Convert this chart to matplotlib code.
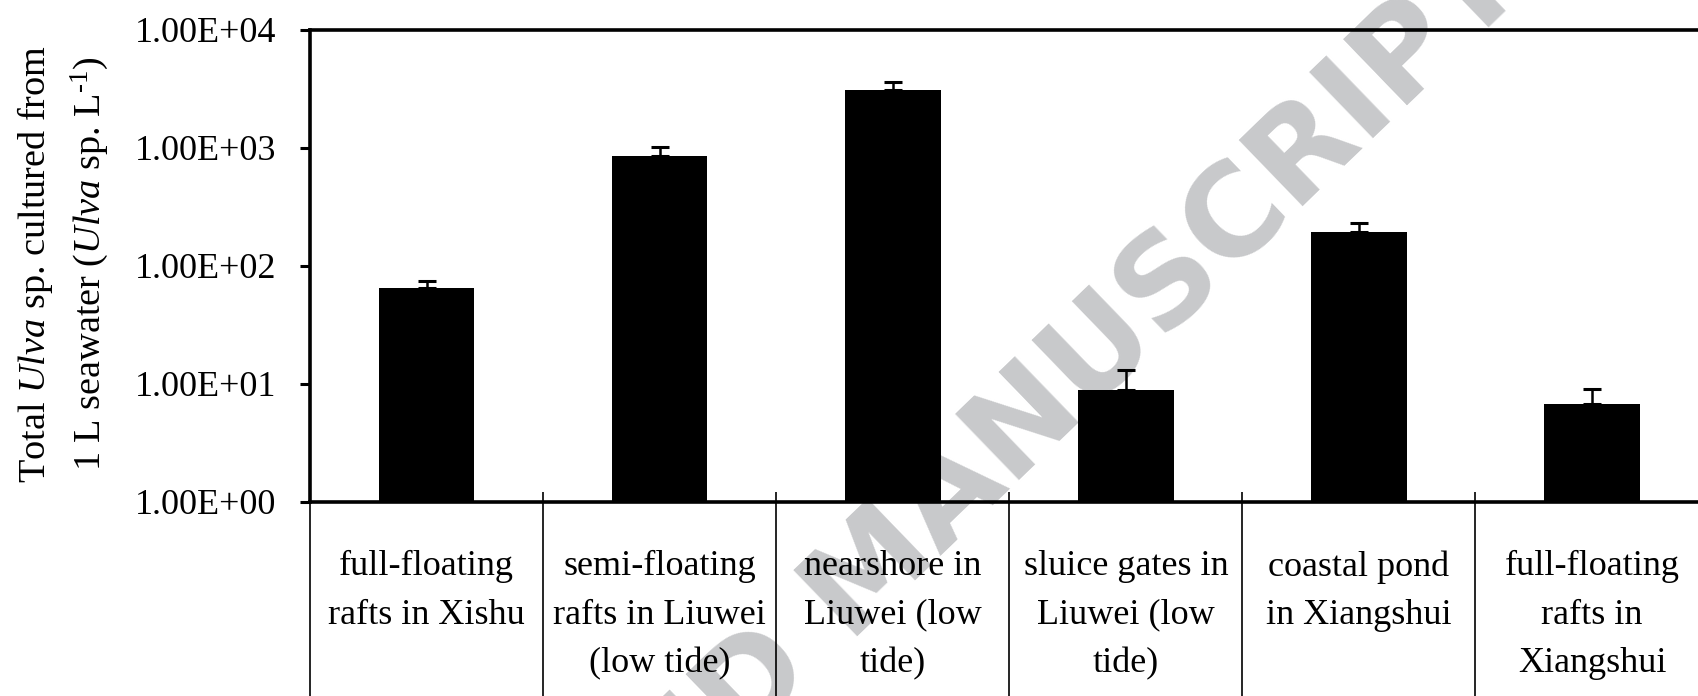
import numpy as np
import matplotlib
matplotlib.use("Agg")
import matplotlib.pyplot as plt
from matplotlib.ticker import FixedLocator, FuncFormatter, NullLocator

plt.rcParams["font.family"] = ["Liberation Serif", "DejaVu Serif"]
plt.rcParams["mathtext.fontset"] = "custom"
plt.rcParams["mathtext.rm"] = "Liberation Serif"
plt.rcParams["mathtext.it"] = "Liberation Serif:italic"

# data
sites = [
    "full-floating\nrafts in Xishu",
    "semi-floating\nrafts in Liuwei\n(low tide)",
    "nearshore in\nLiuwei (low\ntide)",
    "sluice gates in\nLiuwei (low\ntide)",
    "coastal pond\nin Xiangshui",
    "full-floating\nrafts in\nXiangshui",
]
totals = [65, 855, 3100, 8.9, 194, 6.8]
err_up = [9.5, 164, 525, 4.2, 37, 2.3]
yticks = [1, 10, 100, 1000, 10000]

W, H = 1698, 696
fig = plt.figure(figsize=(W / 100, H / 100), dpi=100)
ax = fig.add_axes([310 / W, 1 - 502 / H, 1398.6 / W, 472 / H])
ax.set_facecolor("none")

x = np.arange(len(sites)) + 0.5
ax.bar(x, totals, width=0.41, color="black", zorder=2)
ax.errorbar(x, totals, yerr=[np.zeros(len(sites)), err_up], fmt="none",
            ecolor="black", elinewidth=1.8, capsize=6.5, capthick=2.2, zorder=3)

ax.set_yscale("log")
ax.set_ylim(yticks[0], yticks[-1])
ax.set_xlim(0, len(sites))
ax.yaxis.set_major_locator(FixedLocator(yticks))
ax.yaxis.set_minor_locator(NullLocator())
ax.yaxis.set_major_formatter(FuncFormatter(lambda v, p: f"{v:.2E}"))
ax.tick_params(axis="y", direction="out", length=7.5, width=2.2, pad=17, labelsize=26)

# category boundaries: small inward ticks + table lines below the axis
ax.xaxis.set_major_locator(FixedLocator(np.arange(len(sites) + 1)))
ax.xaxis.set_minor_locator(NullLocator())
ax.tick_params(axis="x", direction="in", length=7.5, width=1.2, labelbottom=False)
ax.vlines(np.arange(len(sites) + 1), -0.5, 0, transform=ax.get_xaxis_transform(),
          color="black", lw=1.2, clip_on=False)

for s in ["left", "top", "bottom"]:
    ax.spines[s].set_linewidth(2.6)
ax.spines["right"].set_visible(False)

trans = ax.get_xaxis_transform()
for xi, name in zip(x, sites):
    ax.text(xi, -48 / 472, name, transform=trans, ha="center", va="top",
            multialignment="center", fontsize=26, linespacing=1.62, clip_on=False)

# y label, two lines
fig.text(45 / W, 1 - 264 / H, r"Total $\mathit{Ulva}$ sp. cultured from", rotation=90,
         rotation_mode="anchor", ha="center", va="baseline", fontsize=27.5)
fig.text(100 / W, 1 - 264 / H, r"1 L seawater ($\mathit{Ulva}$ sp. L$^{\text{-1}}$)",
         rotation=90, rotation_mode="anchor", ha="center", va="baseline", fontsize=27.5)

# watermark
fig.text(906 / W, 1 - 590 / H, "ACCEPTED MANUSCRIPT", rotation=44, rotation_mode="anchor",
         ha="center", va="baseline", fontsize=91.5, fontweight="bold",
         family="DejaVu Sans", color="#c8c9cb", zorder=-1)

fig.savefig("out.png", dpi=100)
